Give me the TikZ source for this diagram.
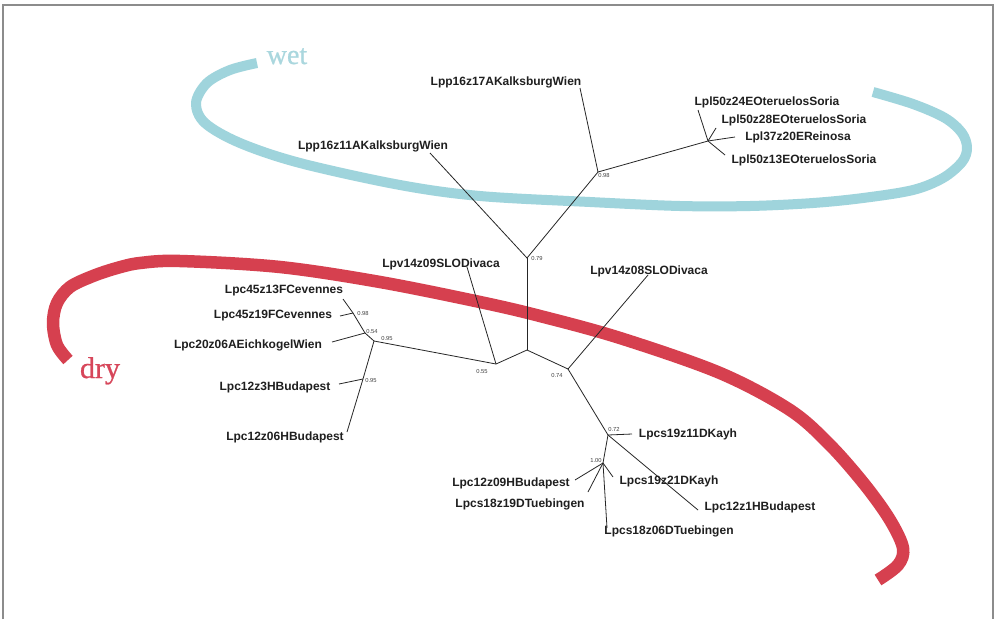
\documentclass[tikz,border=0pt]{standalone}
\usepackage{fontspec}
\setmainfont{Liberation Serif}
\newfontfamily\labf{Liberation Sans}
\newfontfamily\wdfont[FakeBold=0.8]{Liberation Serif}
\definecolor{wetc}{HTML}{9FD4DC}
\definecolor{wettxt}{HTML}{AAD7DE}
\definecolor{dryc}{HTML}{D6404F}
\definecolor{drytxt}{HTML}{D7465A}
\begin{document}
\begin{tikzpicture}[x=1pt,y=-1pt,
  lab/.style={font=\labf\bfseries\fontsize{12}{14}\selectfont, inner sep=0pt, text=black!88},
  bsv/.style={font=\labf\fontsize{5.8}{7}\selectfont, inner sep=0pt, text=black!75},
  br/.style={draw=black!85, line width=0.8pt},
  band/.style={line width=#1, line cap=butt, line join=round},
  frame/.style={draw=black!45, line width=1.3pt}]
\useasboundingbox (0,0) rectangle (995,619);
\fill[white] (0,0) rectangle (995,619);
\draw[frame] (3,619) -- (3,5) -- (993,5) -- (993,619);

% bands
\draw[band=10pt, wetc] plot[smooth, tension=0.55] coordinates {
 (257,63) (230,70) (207,83) (196,103) (205,123) (240,143) (300,163) (400,185)
 (480,196) (590,202) (680,206) (750,206) (813,203) (863,198) (913,190) (943,178)
 (962,162) (967,148) (962,133) (945,118) (913,104) (873,92)};
\draw[band=12.5pt, dryc] plot[smooth, tension=0.55] coordinates {
 (68,360) (57,345) (53,323) (57,303) (70,287) (93,276) (117,268) (140,263)
 (180,261) (280,267) (380,282) (480,302) (540,316) (620,338) (720,373) (790,410)
 (830,445) (865,485) (890,520) (903,548) (898,565) (878,580)};

\node[font=\wdfont\fontsize{28}{30}\selectfont, text=wettxt, inner sep=0pt, anchor=base] (wet) at (287,64) {wet};
\node[font=\wdfont\fontsize{30}{32}\selectfont, text=drytxt, inner sep=0pt, anchor=base] (dry) at (100,378) {dry};

% internal nodes
\coordinate (n79) at (527,258);
\coordinate (n98a) at (598,172);
\coordinate (nS) at (708,141);
\coordinate (nR) at (527,350);
\coordinate (n55) at (496,364);
\coordinate (n74) at (568,369);
\coordinate (n95) at (374,341);
\coordinate (n54) at (365,333);
\coordinate (n98b) at (353,313);
\coordinate (n95b) at (363,379);
\coordinate (n72) at (608,435);
\coordinate (n100) at (603,463);
% tips
\coordinate (t11) at (430,153);
\coordinate (t17) at (580,88);
\coordinate (t24) at (698,110);
\coordinate (t28) at (716,128);
\coordinate (t37) at (735,137);
\coordinate (t13) at (725,155);
\coordinate (tv09) at (467,267);
\coordinate (t4513) at (343,299);
\coordinate (t4519) at (340,316);
\coordinate (t2006) at (332,342);
\coordinate (t123) at (339,384);
\coordinate (t1206) at (347,432);
\coordinate (tv08) at (648,275);
\coordinate (t1911) at (632,434);
\coordinate (t121) at (698,510);
\coordinate (t1209) at (575,480);
\coordinate (t1819) at (588,492);
\coordinate (t1921) at (613,477);
\coordinate (t1806) at (607,528);

% branches
\draw[br] (t11) -- (n79) -- (n98a) -- (t17);
\draw[br] (n98a) -- (nS);
\draw[br] (nS) -- (t24);
\draw[br] (nS) -- (t28);
\draw[br] (nS) -- (t37);
\draw[br] (nS) -- (t13);
\draw[br] (n79) -- (nR);
\draw[br] (nR) -- (n55);
\draw[br] (nR) -- (n74);
\draw[br] (n55) -- (tv09);
\draw[br] (n55) -- (n95);
\draw[br] (n95) -- (n54);
\draw[br] (n54) -- (n98b);
\draw[br] (n98b) -- (t4513);
\draw[br] (n98b) -- (t4519);
\draw[br] (n54) -- (t2006);
\draw[br] (n95) -- (n95b);
\draw[br] (n95b) -- (t123);
\draw[br] (n95b) -- (t1206);
\draw[br] (n74) -- (tv08);
\draw[br] (n74) -- (n72);
\draw[br] (n72) -- (t1911);
\draw[br] (n72) -- (t121);
\draw[br] (n72) -- (n100);
\draw[br] (n100) -- (t1209);
\draw[br] (n100) -- (t1819);
\draw[br] (n100) -- (t1921);
\draw[br] (n100) -- (t1806);

% support values
\node[bsv] (s79) at (537,258) {0.79};
\node[bsv] (s98a) at (604,175) {0.98};
\node[bsv] (s55) at (482,371) {0.55};
\node[bsv] (s74) at (557,375) {0.74};
\node[bsv] (s95) at (387,338) {0.95};
\node[bsv] (s54) at (372,331) {0.54};
\node[bsv] (s98b) at (363,313) {0.98};
\node[bsv] (s95b) at (371,380) {0.95};
\node[bsv] (s72) at (614,429) {0.72};
\node[bsv] (s100) at (596,460) {1.00};

% leaf labels
\node[lab] (l17) at (506,82) {Lpp16z17AKalksburgWien};
\node[lab] (l11) at (373,146) {Lpp16z11AKalksburgWien};
\node[lab] (l24) at (767,102) {Lpl50z24EOteruelosSoria};
\node[lab] (l28) at (794,120) {Lpl50z28EOteruelosSoria};
\node[lab] (l37) at (798,137) {Lpl37z20EReinosa};
\node[lab] (l13) at (804,160) {Lpl50z13EOteruelosSoria};
\node[lab] (lv09) at (441,264) {Lpv14z09SLODivaca};
\node[lab] (lv08) at (649,271) {Lpv14z08SLODivaca};
\node[lab] (l4513) at (284,291) {Lpc45z13FCevennes};
\node[lab] (l4519) at (273,316) {Lpc45z19FCevennes};
\node[lab] (l2006) at (248,345) {Lpc20z06AEichkogelWien};
\node[lab] (l123) at (275,387) {Lpc12z3HBudapest};
\node[lab] (l1206) at (285,437) {Lpc12z06HBudapest};
\node[lab] (l1911) at (688,434) {Lpcs19z11DKayh};
\node[lab] (l1921) at (669,481) {Lpcs19z21DKayh};
\node[lab] (l121) at (760,507) {Lpc12z1HBudapest};
\node[lab] (l1209) at (511,483) {Lpc12z09HBudapest};
\node[lab] (l1819) at (520,504) {Lpcs18z19DTuebingen};
\node[lab] (l1806) at (669,531) {Lpcs18z06DTuebingen};
\end{tikzpicture}
\end{document}
